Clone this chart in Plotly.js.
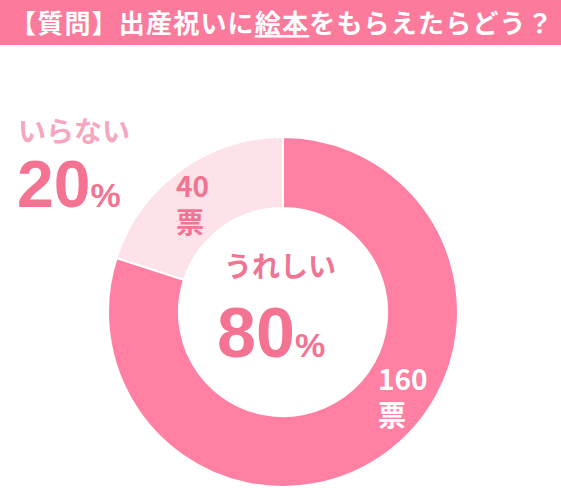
<!DOCTYPE html>
<html>
<head>
<meta charset="utf-8">
<script src="https://cdn.plot.ly/plotly-3.0.1.min.js"></script>
<style>
  html, body { margin: 0; padding: 0; background: #fff; }
  #chart { width: 561px; height: 495px; }
</style>
</head>
<body>
<div id="chart"></div>
<script>
// data
var answers = ['うれしい', 'いらない'];
var votes = [160, 40];
var sliceColors = ['#FF80A2', '#FDE2EA'];
var questionTitle = '【質問】出産祝いに<span style="text-decoration:underline">絵本</span>をもらえたらどう？';

var total = votes.reduce(function (a, b) { return a + b; }, 0);
var pct = votes.map(function (v) { return Math.round(v / total * 100); });

var font = '"Noto Sans CJK JP", "Noto Sans", sans-serif';
var numFont = '"Liberation Sans", Arial, sans-serif';

var trace = {
  type: 'pie',
  labels: answers,
  values: votes,
  sort: false,
  direction: 'clockwise',
  rotation: 0,
  hole: 0.595,
  textinfo: 'none',
  hoverinfo: 'none',
  showlegend: false,
  marker: { colors: sliceColors, line: { color: '#ffffff', width: 2 } },
  domain: { x: [0.1925, 0.8164], y: [0.0162, 0.7232] }
};

var layout = {
  width: 561,
  height: 495,
  margin: { l: 0, r: 0, t: 0, b: 0 },
  paper_bgcolor: '#ffffff',
  font: { family: font },
  shapes: [{
    type: 'rect', xref: 'paper', yref: 'paper',
    x0: 0, x1: 1, y0: 1 - 45 / 495, y1: 1,
    fillcolor: '#FC7A9B', line: { width: 0 }
  }],
  annotations: [
    // title bar
    { xref: 'paper', yref: 'paper', x: 8 / 561, y: 1 - 22 / 495, xanchor: 'left', yanchor: 'middle',
      showarrow: false, text: '<b><span style="letter-spacing:1.2px">' + questionTitle + '</span></b>',
      font: { family: font, size: 26, color: '#ffffff' } },
    // left: いらない / 20%
    { xref: 'paper', yref: 'paper', x: 16 / 561, y: 1 - 130 / 495, xanchor: 'left', yanchor: 'middle',
      showarrow: false, text: '<b>' + answers[1] + '</b>',
      font: { family: font, size: 28, color: '#F6A6BF' } },
    { xref: 'paper', yref: 'paper', x: 15 / 561, y: 1 - 184 / 495, xanchor: 'left', yanchor: 'middle',
      showarrow: false, text: '<b>' + pct[1] + '<span style="font-size:34px">%</span></b>',
      font: { family: numFont, size: 66, color: '#F47392' } },
    // center: うれしい / 80%
    { xref: 'paper', yref: 'paper', x: 280 / 561, y: 1 - 265 / 495, xanchor: 'center', yanchor: 'middle',
      showarrow: false, text: '<b>' + answers[0] + '</b>',
      font: { family: font, size: 28, color: '#F07592' } },
    { xref: 'paper', yref: 'paper', x: 271 / 561, y: 1 - 333 / 495, xanchor: 'center', yanchor: 'middle',
      showarrow: false, text: '<b>' + pct[0] + '<span style="font-size:34px">%</span></b>',
      font: { family: numFont, size: 70, color: '#F47392' } },
    // vote counts
    { xref: 'paper', yref: 'paper', x: 174 / 561, y: 1 - 203 / 495, xanchor: 'left', yanchor: 'middle',
      showarrow: false, align: 'left', text: '<b>' + votes[1] + '<br>票</b>',
      font: { family: font, size: 28, color: '#F07592' } },
    { xref: 'paper', yref: 'paper', x: 376 / 561, y: 1 - 396 / 495, xanchor: 'left', yanchor: 'middle',
      showarrow: false, align: 'left', text: '<b>' + votes[0] + '<br>票</b>',
      font: { family: font, size: 28, color: '#ffffff' } }
  ]
};

Plotly.newPlot('chart', [trace], layout, { displayModeBar: false, staticPlot: true });
</script>
</body>
</html>
